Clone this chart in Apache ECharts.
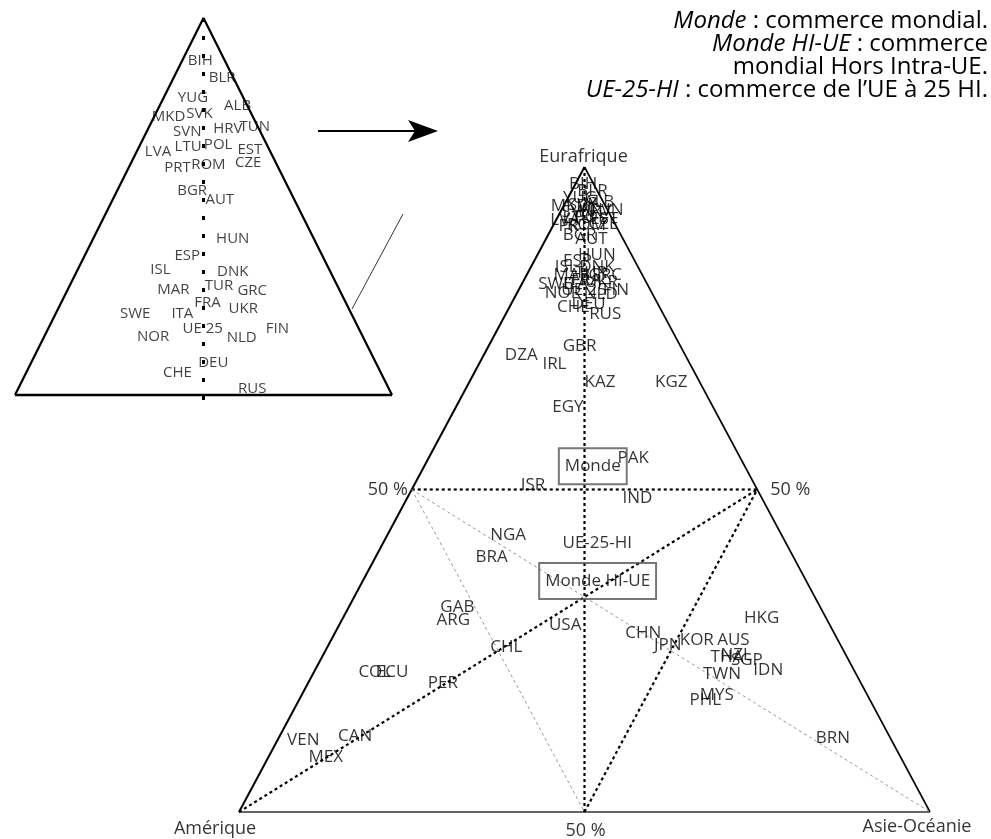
<!DOCTYPE html>
<html>
<head>
<meta charset="utf-8">
<script src="https://cdn.jsdelivr.net/npm/echarts@6/dist/echarts.min.js"></script>
<style>
  html, body { margin: 0; padding: 0; background: #ffffff; }
  #chart { width: 991px; height: 839px; }
</style>
</head>
<body>
<div id="chart"></div>
<script>
// Trade shares (%) of each country with the three poles: Eurafrique, Amérique, Asie-Océanie
const codes = [
  'BIH','BLR','YUG','ALB','SVK','MKD','SVN','HRV','TUN','POL','LTU','LVA','EST','PRT','ROM','CZE',
  'BGR','AUT','HUN','ESP','ISL','DNK','MAR','TUR','GRC','FRA','UKR','SWE','ITA','UE 25','NOR','NLD',
  'FIN','DEU','CHE','RUS',
  'GBR','DZA','IRL','KAZ','KGZ','EGY','PAK','ISR','IND','NGA','BRA','UE-25-HI','GAB','ARG','USA','CHL',
  'CHN','JPN','KOR','AUS','HKG','THA','NZL','SGP','IDN','TWN','MYS','PHL','BRN','PER','COL','ECU',
  'VEN','CAN','MEX'
];
const eurafrique = [
  97.4, 96.3, 95.1, 94.6, 94.1, 93.9, 93.0, 93.2, 93.3, 92.2, 92.1, 91.8, 91.9, 90.8, 91.0, 91.1,
  89.4, 88.8, 86.4, 85.4, 84.5, 84.4, 83.3, 83.5, 83.2, 82.5, 82.1, 81.8, 81.8, 80.9, 80.4, 80.3,
  80.9, 78.8, 78.2, 77.2,
  72.2, 70.9, 69.5, 66.7, 66.7, 62.8, 54.9, 50.7, 48.7, 42.9, 39.5, 41.7, 31.8, 29.8, 29.0, 25.6,
  27.8, 25.9, 26.7, 26.7, 30.1, 24.0, 24.3, 23.6, 22.0, 21.4, 18.1, 17.4, 11.5, 20.0, 21.7, 21.7,
  11.2, 11.8, 8.5
];
const amerique = [
  1.5, 0.7, 3.1, 0.6, 3.2, 5.2, 4.5, 1.9, 0.2, 3.0, 4.9, 6.9, 1.2, 6.2, 4.2, 1.7,
  6.0, 4.6, 5.0, 8.3, 10.4, 6.0, 10.2, 7.3, 5.4, 8.5, 6.5, 13.3, 10.4, 9.6, 12.9, 7.5,
  5.0, 10.0, 12.5, 8.4,
  14.6, 23.7, 19.6, 14.4, 4.1, 21.0, 15.5, 32.1, 18.0, 39.6, 43.7, 27.3, 52.5, 54.1, 38.3, 48.5,
  27.6, 25.0, 20.4, 15.1, 9.3, 17.4, 15.9, 14.7, 12.4, 19.4, 21.8, 23.8, 8.3, 60.5, 69.5, 67.0,
  85.1, 77.3, 83.2
];
const asie = [
  1.1, 3.0, 1.8, 4.8, 2.7, 0.9, 2.5, 4.9, 6.5, 4.8, 3.0, 1.3, 6.9, 3.0, 4.8, 7.2,
  4.6, 6.6, 8.6, 6.3, 5.1, 9.6, 6.5, 9.2, 11.4, 9.0, 11.4, 4.9, 7.8, 9.5, 6.7, 12.2,
  14.1, 11.2, 9.3, 14.4,
  13.2, 5.4, 10.9, 18.9, 29.2, 16.2, 29.6, 17.2, 33.3, 17.5, 16.8, 31.0, 15.7, 16.1, 32.7, 25.9,
  44.6, 49.1, 52.9, 58.2, 60.6, 58.6, 59.8, 61.7, 65.6, 59.2, 60.1, 58.8, 80.2, 19.5, 8.8, 11.3,
  3.7, 10.9, 8.3
];

// World aggregates, shown boxed
const aggNames = ['Monde', 'Monde HI-UE'];
const aggEurafrique = [53.6, 35.8];
const aggAmerique = [22.0, 30.2];
const aggAsie = [24.4, 34.0];

// Lower bound of Eurafrique share covered by the enlarged view
const zoomFloor = 76.8;

// Ternary (Eurafrique, Amérique, Asie) -> plane: Amérique at (0,0), Asie at (1,0), Eurafrique at (0.5,1)
function toXY(e, am, as) {
  const t = e + am + as;
  return [(as + e / 2) / t, e / t];
}

const FONT = '"Open Sans", "DejaVu Sans", sans-serif';

function seg(gridIdx, pts, style) {
  return {
    type: 'line',
    xAxisIndex: gridIdx, yAxisIndex: gridIdx,
    data: pts.map(p => toXY(p[0], p[1], p[2])),
    symbol: 'none', silent: true, animation: false, clip: false,
    lineStyle: style, z: 2
  };
}

const solid = (w, c) => ({ color: c || '#000', width: w, type: 'solid' });
const dotted = { color: '#000', width: 2.2, type: [3, 3], cap: 'butt' };
const grayDash = { color: '#8c8c8c', width: 0.9, type: [3, 3] };

const mainPoints = codes.map((c, i) => ({ name: c, value: toXY(eurafrique[i], amerique[i], asie[i]) }));
const zoomPoints = codes
  .map((c, i) => ({ name: c, e: eurafrique[i], value: toXY(eurafrique[i], amerique[i], asie[i]) }))
  .filter(p => p.e >= zoomFloor)
  .map(p => ({ name: p.name, value: p.value }));
const aggPoints = aggNames.map((n, i) => ({ name: n, value: toXY(aggEurafrique[i], aggAmerique[i], aggAsie[i]) }));

const TITLE_SIZE = 24;
const italic = { i: { fontStyle: 'italic', fontSize: TITLE_SIZE, fontFamily: FONT, fill: '#000' } };
function titleLine(text, y) {
  return {
    type: 'text', x: 988, y: y,
    style: { text: text, align: 'right', verticalAlign: 'middle', font: TITLE_SIZE + 'px ' + FONT, fill: '#000', rich: italic }
  };
}

const option = {
  animation: false,
  grid: [
    { left: 239, top: 167, width: 691, height: 645 },
    { left: 15, top: 18, width: 377, height: 377 }
  ],
  xAxis: [
    { type: 'value', gridIndex: 0, min: 0, max: 1, show: false },
    { type: 'value', gridIndex: 1, min: 0.5 - (100 - zoomFloor) / 200, max: 0.5 + (100 - zoomFloor) / 200, show: false }
  ],
  yAxis: [
    { type: 'value', gridIndex: 0, min: 0, max: 1, show: false },
    { type: 'value', gridIndex: 1, min: zoomFloor / 100, max: 1, show: false }
  ],
  graphic: [
    titleLine('{i|Monde} : commerce mondial.', 21),
    titleLine('{i|Monde HI-UE} : commerce', 44),
    titleLine('mondial Hors Intra-UE.', 67),
    titleLine('{i|UE-25-HI} : commerce de l\u2019UE à 25 HI.', 90),
    // arrow from the enlarged view towards the main triangle
    { type: 'line', shape: { x1: 318, y1: 131, x2: 420, y2: 131 }, style: { stroke: '#000', lineWidth: 2 } },
    { type: 'polygon', shape: { points: [[438, 131], [408, 120], [415, 131], [408, 142]] }, style: { fill: '#000' } },
    // thin connector
    { type: 'line', shape: { x1: 403, y1: 214, x2: 352, y2: 309 }, style: { stroke: '#000', lineWidth: 0.8 } }
  ],
  series: [
    // main triangle
    seg(0, [[0, 100, 0], [100, 0, 0]], solid(2)),
    seg(0, [[100, 0, 0], [0, 0, 100]], solid(1.6)),
    seg(0, [[0, 100, 0], [0, 0, 100]], solid(1.3, '#333')),
    // 50 % lines and medians
    seg(0, [[50, 50, 0], [50, 0, 50]], dotted),
    seg(0, [[0, 50, 50], [50, 0, 50]], dotted),
    seg(0, [[100, 0, 0], [0, 50, 50]], dotted),
    seg(0, [[0, 100, 0], [50, 0, 50]], dotted),
    seg(0, [[50, 50, 0], [0, 50, 50]], grayDash),
    seg(0, [[50, 50, 0], [0, 0, 100]], grayDash),
    // enlarged view
    seg(1, [[zoomFloor, 100 - zoomFloor, 0], [100, 0, 0], [zoomFloor, 0, 100 - zoomFloor]], solid(2.2)),
    seg(1, [[zoomFloor, 100 - zoomFloor, 0], [zoomFloor, 0, 100 - zoomFloor]], solid(2.6)),
    seg(1, [[100, 0, 0], [zoomFloor - 0.6, (100 - zoomFloor + 0.6) / 2, (100 - zoomFloor + 0.6) / 2]], { color: '#000', width: 3, type: [4, 14] }),
    {
      type: 'scatter', xAxisIndex: 0, yAxisIndex: 0, data: mainPoints,
      symbolSize: 1, itemStyle: { color: 'rgba(0,0,0,0)' }, silent: true, z: 5,
      label: { show: true, position: 'inside', formatter: '{b}', color: '#000', fontSize: 17, fontFamily: FONT }
    },
    {
      type: 'scatter', xAxisIndex: 1, yAxisIndex: 1, data: zoomPoints,
      symbolSize: 1, itemStyle: { color: 'rgba(0,0,0,0)' }, silent: true, z: 5,
      label: { show: true, position: 'inside', formatter: '{b}', color: '#111', fontSize: 15, fontFamily: FONT }
    },
    {
      type: 'scatter', xAxisIndex: 0, yAxisIndex: 0, data: aggPoints,
      symbolSize: 1, itemStyle: { color: 'rgba(0,0,0,0)' }, silent: true, z: 6,
      label: {
        show: true, position: 'inside', formatter: '{b}', color: '#000', fontSize: 17, fontFamily: FONT,
        borderColor: '#555', borderWidth: 1, padding: [10, 6, 9, 6], backgroundColor: 'rgba(255,255,255,0)'
      }
    },
    // pole names and 50 % marks
    {
      type: 'scatter', xAxisIndex: 0, yAxisIndex: 0, symbolSize: 1, itemStyle: { color: 'rgba(0,0,0,0)' }, silent: true, z: 5,
      label: { show: true, position: 'inside', formatter: '{b}', color: '#000', fontSize: 18, fontFamily: FONT },
      data: [
        { name: 'Eurafrique', value: toXY(100, 0, 0), label: { offset: [-1, -10] } },
        { name: 'Amérique', value: toXY(0, 100, 0), label: { offset: [-24, 17] } },
        { name: 'Asie-Océanie', value: toXY(0, 0, 100), label: { offset: [-13, 15] } },
        { name: '50 %', value: toXY(50, 50, 0), label: { offset: [-24, 0] } },
        { name: '50 %', value: toXY(50, 0, 50), label: { offset: [33, 0] } },
        { name: '50 %', value: toXY(0, 50, 50), label: { offset: [1, 19] } }
      ]
    }
  ]
};

const chart = echarts.init(document.getElementById('chart'), null, { renderer: 'canvas' });
chart.setOption(option);
</script>
</body>
</html>
